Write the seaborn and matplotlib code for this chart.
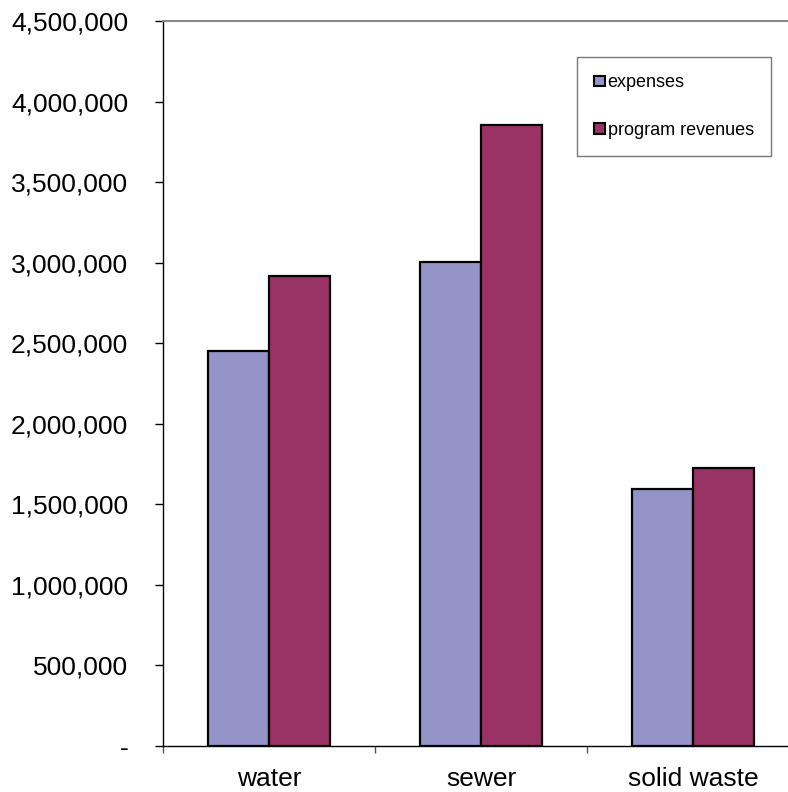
import matplotlib
matplotlib.use("Agg")
import matplotlib.pyplot as plt
import seaborn as sns
import pandas as pd
from matplotlib.ticker import FuncFormatter, FixedLocator
from matplotlib.patches import Patch

categories = ["water", "sewer", "solid waste"]
series_names = ["expenses", "program revenues"]
expenses = [2452000, 3004000, 1595000]
revenues = [2917000, 3855000, 1726000]
colors = ["#9494C8", "#993366"]

df = pd.DataFrame({
    "category": categories * 2,
    "series": [series_names[0]] * 3 + [series_names[1]] * 3,
    "value": expenses + revenues,
})

sns.set_style("white")
plt.rcParams["font.family"] = ["Liberation Sans", "DejaVu Sans"]

fig = plt.figure(figsize=(7.88, 7.92), dpi=100)
ax = fig.add_axes([163 / 788, 46 / 792, 636 / 788, 725 / 792])

sns.barplot(data=df, x="category", y="value", hue="series", order=categories,
            hue_order=series_names, palette=colors, width=0.58, saturation=1,
            edgecolor="black", linewidth=1.6, ax=ax, legend=False)

ax.set_xlim(-0.5, 2.5)
ax.set_ylim(0, 4500000)
ax.set_xlabel("")
ax.set_ylabel("")

ax.yaxis.set_major_locator(FixedLocator(range(0, 4500001, 500000)))
ax.yaxis.set_major_formatter(FuncFormatter(lambda v, p: "-" if v == 0 else f"{int(v):,}"))
ax.tick_params(axis="y", which="major", left=True, direction="out", length=6, width=1,
               color="black", labelsize=19, labelcolor="black", pad=19)

ax.set_xticks([0, 1, 2])
ax.set_xticklabels(categories)
ax.set_xticks([-0.5, 0.5, 1.5, 2.5], minor=True)
ax.tick_params(axis="x", which="major", bottom=True, length=0, labelsize=19,
               labelcolor="black", pad=15)
ax.tick_params(axis="x", which="minor", bottom=True, direction="out", length=5,
               width=1, color="#555555")

for side in ["left", "bottom"]:
    ax.spines[side].set_color("black")
    ax.spines[side].set_linewidth(1.0)
ax.spines["top"].set_color("#888888")
ax.spines["top"].set_linewidth(1.5)
ax.spines["right"].set_visible(False)

handles = [Patch(facecolor=c, edgecolor="black", linewidth=1.5) for c in colors]
leg = ax.legend(handles, series_names, loc="upper left",
                bbox_to_anchor=((577 - 163) / 636, (746 - 57) / 725),
                fontsize=13, frameon=True, fancybox=False, edgecolor="#555555",
                handlelength=0.6, handleheight=0.5, handletextpad=0.15,
                labelspacing=1.7, borderpad=0.95, borderaxespad=0)
leg.get_frame().set_linewidth(1.0)
for t in leg.get_texts():
    t.set_color("black")

fig.savefig("out.png", dpi=100)
